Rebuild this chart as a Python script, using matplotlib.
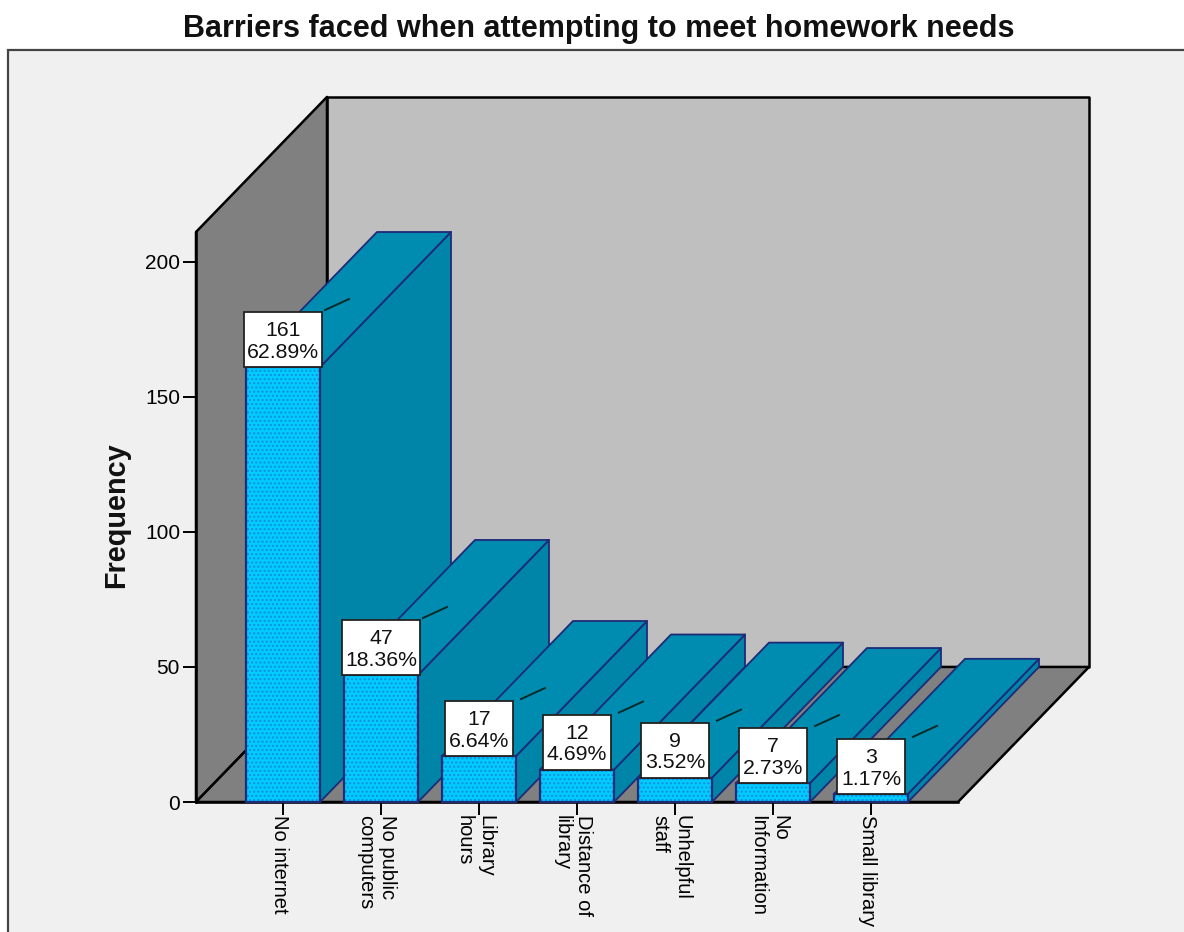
import matplotlib
matplotlib.use("Agg")
import matplotlib.pyplot as plt
from matplotlib.patches import Polygon, Rectangle
from matplotlib.transforms import ScaledTranslation

plt.rcParams['font.family'] = ['Liberation Sans', 'DejaVu Sans']
plt.rcParams['hatch.linewidth'] = 1.0

# chart data
categories = ['No internet', 'No public\ncomputers', 'Library\nhours', 'Distance of\nlibrary',
              'Unhelpful\nstaff', 'No\nInformation', 'Small library']
counts = [161, 47, 17, 12, 9, 7, 3]
percents = ['62.89%', '18.36%', '6.64%', '4.69%', '3.52%', '2.73%', '1.17%']
y_ticks = [0, 50, 100, 150, 200]

# figure size in pixels, used to place the axes
W, H = 1184, 932
BAR_W = 0.755
DX = 131 / 98.0     # depth shift in category units
DY = 135 / 2.7      # depth shift in frequency units
Y_MAX = 211

NAVY = '#1f2a78'

fig = plt.figure(figsize=(W / 100, H / 100), dpi=100, facecolor='white')

# grey panel behind the chart
fig.patches.append(Rectangle((8 / W, -0.01), 1.01, 1 - 50 / H + 0.01, transform=fig.transFigure,
                             facecolor='#f0f0f0', edgecolor='#444444', linewidth=1.6, zorder=-1))

ax = fig.add_axes([196 / W, 1 - 802 / H, (958 - 196) / W, (802 - 232) / H])
ax.patch.set_visible(False)
ax.set_xlim(-87 / 98.0, 675 / 98.0)
ax.set_ylim(0, Y_MAX)

x0, x1 = ax.get_xlim()


def poly(points, face, edge='black', lw=1.8, z=1):
    ax.add_patch(Polygon(points, closed=True, facecolor=face, edgecolor=edge,
                         linewidth=lw, zorder=z, clip_on=False, joinstyle='round'))


# back wall, left wall, floor
poly([(x0 + DX, DY), (x1 + DX, DY), (x1 + DX, Y_MAX + DY), (x0 + DX, Y_MAX + DY)], '#bfbfbf')
poly([(x0, 0), (x0, Y_MAX), (x0 + DX, Y_MAX + DY), (x0 + DX, DY)], '#808080')
poly([(x0, 0), (x1, 0), (x1 + DX, DY), (x0 + DX, DY)], '#808080')

# bars, left to right so that each one covers the side of the last
for i, v in enumerate(counts):
    left = i - BAR_W / 2
    right = i + BAR_W / 2
    z = 3 + i
    poly([(right, 0), (right, v), (right + DX, v + DY), (right + DX, DY)], '#0084a8', NAVY, 1.3, z)
    poly([(left, v), (right, v), (right + DX, v + DY), (left + DX, v + DY)], '#008cb0', NAVY, 1.3, z)
    ax.bar(i, v, BAR_W, facecolor='#00ccff', edgecolor='#0a8fe0', hatch='....', linewidth=0,
           zorder=z + 0.1, clip_on=False)
    ax.bar(i, v, BAR_W, facecolor='none', edgecolor=NAVY, linewidth=1.6, zorder=z + 0.2, clip_on=False)

# value boxes with their small leader lines go above every bar
for i, v in enumerate(counts):
    box_w = (len(percents[i]) * 10 + 18) / 98.0
    ax.add_patch(Rectangle((i - box_w / 2, v), box_w, 55 / 2.7, facecolor='white', edgecolor='#222222',
                           linewidth=1.3, zorder=20, clip_on=False))
    ax.text(i, v + 25.5 / 2.7, f"{v}\n{percents[i]}", ha='center', va='center', fontsize=15.3,
            color='#111111', linespacing=1.15, zorder=21)
    xa = i + BAR_W / 2 + 5 / 98.0
    ax.plot([xa, xa + 24 / 98.0], [v + 57 / 2.7, v + 68 / 2.7], color='#0a2a2a', lw=1.4,
            zorder=20, clip_on=False)

# axes
for side in ['top', 'right']:
    ax.spines[side].set_visible(False)
for side in ['left', 'bottom']:
    ax.spines[side].set_linewidth(1.8)
    ax.spines[side].set_color('black')
    ax.spines[side].set_zorder(2)

ax.set_yticks(y_ticks)
ax.set_xticks(range(len(categories)))
ax.set_xticklabels(categories, rotation=-90, ha='center', va='top', multialignment='left')
ax.tick_params(axis='y', length=9.5, width=1.4, labelsize=15, pad=2)
ax.tick_params(axis='x', length=9.5, width=1.4, labelsize=14.5, pad=0)

# tick labels sit a little left of their ticks
shift = ScaledTranslation(-4 / 100, 0, fig.dpi_scale_trans)
for label in ax.get_xticklabels():
    label.set_transform(label.get_transform() + shift)

fig.text(599 / W, 1 - 29 / H, 'Barriers faced when attempting to meet homework needs',
         ha='center', va='center', fontsize=22, fontweight='bold', color='#111111')
fig.text(116 / W, 1 - 515 / H, 'Frequency', rotation=90, ha='center', va='center',
         fontsize=20.8, fontweight='bold', color='#111111')

fig.savefig('out.png', dpi=100)
